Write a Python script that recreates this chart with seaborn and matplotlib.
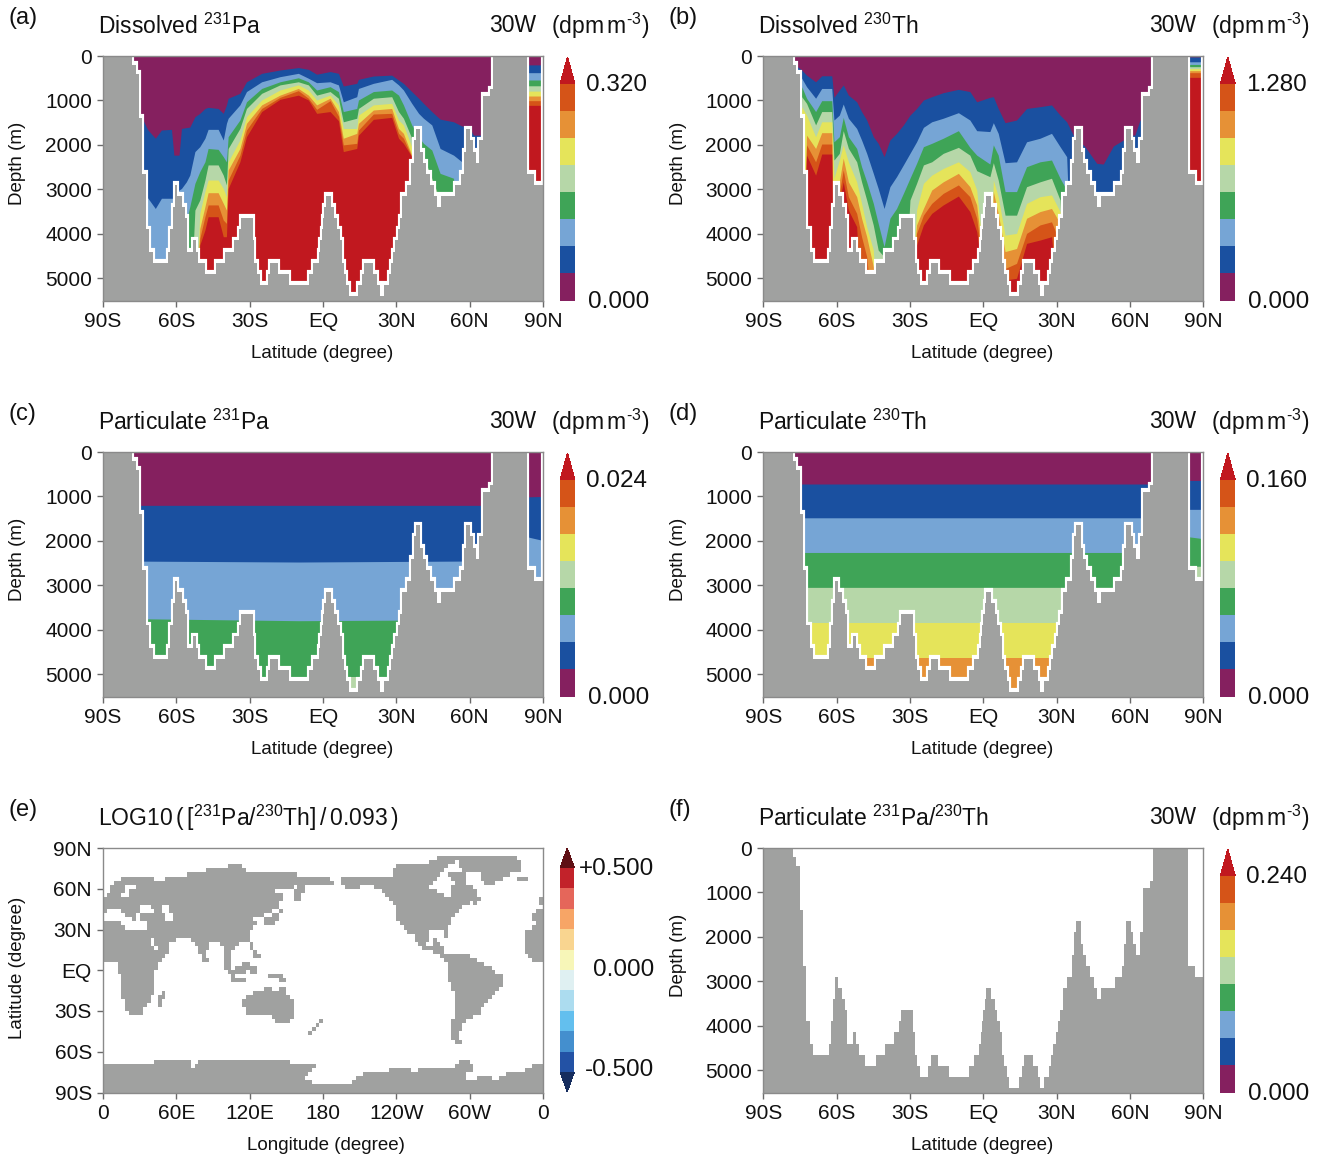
import matplotlib
matplotlib.use('Agg')
import matplotlib.pyplot as plt
from matplotlib.colors import ListedColormap, BoundaryNorm
from matplotlib.colorbar import ColorbarBase
import numpy as np
import seaborn as sns

W, H = 1324, 1158
D = 6000  # interface lies below the sea floor there

# colours
section_colors = ['#85205F', '#1A50A0', '#76A5D5', '#3FA457', '#B6D7A8', '#E5E45A', '#E69136', '#D55418', '#C1181F']
ratio_colors = ['#2352A5', '#448FCE', '#63BFEE', '#ACDCEF', '#DFF0F2', '#F7F6B8', '#F9D590', '#F7A566', '#E5665A', '#C2222A']
ratio_over = '#5F0F14'
ratio_under = '#162D5E'
land_color = '#A0A1A0'

# sea floor along 30W, each depth holds from its latitude to the next one
topo_lat = [-90, -78, -76.6, -75.1, -73.9, -72.4, -71, -69.7, -63.3, -62.5, -61.5, -60.5, -59.6, -57.7, -56.6, -55.6,
            -53.2, -52, -51, -48.3, -43.8, -40.1, -36.4, -34.5, -33.5, -28.8, -28.1, -27, -25.9, -22.5, -21.5, -18.5,
            -13.9, -5.7, -4, -1.8, -1.1, -0.4, 0, 0.5, 1.1, 3.3, 4.6, 5.7, 6.8, 7.6, 8.6, 9.5, 10.6, 14.5,
            15.8, 16.6, 20.5, 22.2, 23.3, 25, 26.9, 27.8, 28.6, 29.6, 30.5, 31.5, 32.5, 34.4, 36.1, 37.1, 37.9, 39.8,
            40.9, 42, 43.8, 45.4, 46.5, 48.3, 53.9, 56.6, 57.5, 58.4, 60.3, 61.2, 62.5, 64, 65.5, 68.2, 69.5, 83.6, 86.5, 90]
topo_depth = [0, 200, 400, 1400, 2650, 3900, 4400, 4650, 4400, 3900, 3400, 2900, 3150, 3400, 3650, 4400,
              4150, 4400, 4650, 4900, 4650, 4400, 4150, 3900, 3650, 4150, 4650, 4900, 5150, 4900, 4650, 4900,
              5150, 4900, 4650, 4400, 4150, 3900, 3650, 3400, 3150, 3400, 3650, 3900, 4150, 4650, 4900, 5150, 5400, 5150,
              4900, 4650, 4900, 5150, 5400, 5150, 4900, 4650, 4400, 4150, 3900, 3650, 3150, 2900, 2400, 1900, 1650, 2150,
              2400, 2650, 2900, 3150, 3400, 3150, 2900, 2650, 2150, 1650, 1900, 2150, 2400, 1900, 900, 750, 0, 2650, 2900, 2900]

# panel (a): depth of the top of each colour band
lat_a = [-73.6, -72.2, -71.6, -68.6, -66.1, -62, -61, -58.9, -57.9, -55.9,
         -54.5, -52.4, -50.4, -48.3, -47, -42.9, -40.8, -39.5, -38.8, -34,
         -31.3, -25.1, -17.6, -10.1, -6, -2.6, 2.9, 6.3, 8.3, 13.8,
         14.5, 20.6, 28.1, 30.9, 32.9, 36.3, 39.1, 41.1, 44.5, 47.9,
         53.4, 56.8, 59.5, 61.6, 64.3, 69.1, 83, 90]
a_blue = [1440, 1605, 1665, 1850, 1665, 1650, 2230, 2230, 1630, 1610,
          1600, 1365, 1290, 1180, 1155, 1180, 1290, 1100, 950, 840,
          580, 390, 315, 260, 300, 410, 350, 390, 675, 615,
          525, 450, 430, 540, 615, 800, 950, 1065, 1250, 1420,
          1480, 1575, 1590, 1780, 1780, 1780, 200, 200]
a_light = [3165, 3165, 3200, 3430, 3200, 3200, 3200, 3015, 2980, 2830,
           2680, 2150, 2040, 1850, 1650, 1650, 1890, 1515, 1400, 1100,
           800, 580, 465, 390, 500, 600, 580, 650, 1030, 915,
           730, 615, 525, 650, 765, 1065, 1290, 1400, 1550, 2080,
           2230, 2380, D, D, D, D, 375, 375]
a_green = [D, D, D, D, D, D, D, D, D, 3700,
           3390, 2865, 2600, 2380, 2080, 2100, 2265, 2380, 1815, 1440,
           1030, 730, 580, 490, 580, 765, 690, 800, 1250, 1180,
           990, 800, 765, 880, 1100, 1550, 1815, 1965, 2115, 2640,
           2750, D, D, D, D, D, 540, 540]
a_pale = [D, D, D, D, D, D, D, D, D, D,
          D, 3465, 3240, 2790, 2450, 2450, 2680, 2900, 2080, 1630,
          1180, 840, 650, 580, 650, 880, 800, 950, 1480, 1400,
          1180, 950, 915, 1250, 1400, 1850, 2080, 2265, 2750, 3240,
          D, D, D, D, D, D, 670, 670]
a_yellow = [D, D, D, D, D, D, D, D, D, D,
            D, D, 3540, 3050, 2790, 2790, 2980, 3165, 2380, 1890,
            1365, 990, 765, 650, 765, 990, 880, 1100, 1630, 1630,
            1330, 1100, 1065, 1440, 1550, 2040, D, D, D, D,
            D, D, D, D, D, D, 790, 790]
a_orange = [D, D, D, D, D, D, D, D, D, D,
            D, D, 3880, 3390, 3075, 3075, 3315, 3465, 2565, 2080,
            1515, 1100, 880, 730, 880, 1100, 950, 1250, 1850, 1740,
            1515, 1215, 1180, 1630, 1740, 2230, D, D, D, D,
            D, D, D, D, D, D, 900, 900]
a_dark = [D, D, D, D, D, D, D, D, D, D,
          D, D, 4100, 3615, 3350, 3350, 3690, 3765, 2790, 2230,
          1665, 1180, 930, 780, 950, 1200, 1005, 1350, 2000, 1965,
          1665, 1305, 1290, 1740, 1850, 2265, D, D, D, D,
          D, D, D, D, D, D, 1005, 1005]
a_red = [D, D, D, D, D, D, D, D, D, D,
         D, D, 4250, 3915, 3615, 3615, 4065, 4065, 2980, 2380,
         1815, 1250, 975, 880, 990, 1290, 1250, 1455, 2150, 2080,
         1780, 1425, 1380, 1850, 1965, 2265, D, D, D, D,
         D, D, D, D, D, D, 1110, 1110]

# panel (b)
lat_b = [-76.4, -74.3, -72.3, -68.6, -66.1, -62, -61.1, -58.9, -57.3, -55.2,
         -51.8, -49.8, -47.7, -45, -43, -40.6, -38.2, -35.5, -32.7, -30,
         -27.3, -24.5, -21.1, -16.4, -10.2, -5.5, -2.7, 2.7, 4.1, 6.1,
         8.9, 13.6, 17.7, 23.2, 27.9, 31.4, 34.1, 36.8, 38.9, 41.6,
         46.4, 49.1, 53.2, 57.3, 59.3, 62, 64.1, 68.9, 83, 90]
b_blue = [225, 315, 430, 580, 445, 445, 930, 765, 650, 880,
          1030, 1250, 1440, 1815, 1965, 2265, 1890, 1740, 1550, 1330,
          1180, 990, 915, 825, 750, 800, 1030, 930, 915, 1180,
          1500, 1440, 1180, 1140, 1100, 1330, 1480, 1780, 1890, 2040,
          2415, 2430, 2025, 1890, 1780, 1780, 1440, 1440, 20, 20]
b_light = [540, 500, 690, 950, 730, 730, 1440, 1330, 1080, 1400,
           1630, 1890, 2190, 2640, 2980, 3430, 2940, 2715, 2450, 2190,
           1930, 1605, 1480, 1400, 1275, 1440, 1680, 1700, 1500, 1740,
           2400, 2380, 1930, 1850, 1740, 2040, 2265, D, D, D,
           D, D, D, D, D, D, D, D, 130, 130]
b_green = [D, 690, 950, 1250, 1005, 1005, 1930, 1815, 1380, 1815,
           2080, 2490, 2830, 3315, 3765, 4290, 3650, 3430, 3090, 2750,
           2415, 2040, 1965, 1850, 1680, 2055, 2230, 2430, 2000, 2230,
           3050, 3050, 2490, 2380, 2340, 2750, 3015, D, D, D,
           D, D, D, D, D, D, D, D, 190, 190]
b_pale = [D, 915, 1065, 1550, 1250, 1250, 2340, 2190, 1680, 2075,
          2380, 2830, 3240, 3805, 4365, 4515, D, D, D, 3240,
          2865, 2450, 2380, 2190, 2055, 2230, 2580, 2715, 2400, 2790,
          3580, 3580, 2940, 2830, 2750, 3240, D, D, D, D,
          D, D, D, D, D, D, D, D, 240, 240]
b_yellow = [D, 1140, 1330, 1815, 1480, 1480, 2750, 2340, 2000, 2380,
            2830, 3315, 3840, 4365, D, D, D, D, D, D,
            3465, 2865, 2680, 2530, 2380, 2600, 3015, D, 2790, 3165,
            4030, 3990, 3315, 3165, 3125, 3500, D, D, D, D,
            D, D, D, D, D, D, D, D, 285, 285]
b_orange = [D, D, 1780, 2080, 1725, 1725, D, 2830, 2300, 2830,
            3165, 3650, 4065, 4740, D, D, D, D, D, D,
            3800, 3430, 3015, 2830, 2640, 2940, 3350, D, 3050, 3540,
            4400, 4330, 3650, 3500, 3430, 3765, D, D, D, D,
            D, D, D, D, D, D, D, D, 330, 330]
b_dark = [D, D, 2000, 2380, 1980, 1980, D, 3090, 2565, 3165,
          3540, 4065, 4515, D, D, D, D, D, D, D,
          3990, 3580, 3315, 3090, 2900, 3165, 3650, D, D, 3840,
          4780, 4665, 3990, 3800, 3730, 4200, D, D, D, D,
          D, D, D, D, D, D, D, D, 375, 375]
b_red = [D, D, 2230, 2680, 2205, 2205, D, 3300, 2830, 3465,
         3840, D, D, D, D, D, D, D, D, D,
         4250, 3800, 3540, 3350, 3150, 3500, 3950, D, D, D,
         5040, 5000, 4215, 4140, 4065, D, D, D, D, D,
         D, D, D, D, D, D, D, D, 480, 480]

# panel (c), nearly flat bands
c_blue = ([-90, 69, 83, 90], [1200, 1200, 1010, 1000])
c_light = ([-90, -10, 69, 83.7, 90], [2450, 2475, 2450, 1910, 1990])
c_green = ([-90, -10, 90], [3740, 3795, 3765])
c_pale = ([-90, 10.4, 10.7, 14.5, 14.6, 23, 23.2, 24.5, 24.6, 90], [D, D, 5050, 5050, D, D, 5050, 5050, D, D])

# panel (d)
d_blue = ([-90, 69, 83, 90], [720, 720, 640, 640])
d_light = ([-90, 69, 83, 90], [1480, 1480, 1290, 1290])
d_green = ([-90, 69, 83, 90], [2260, 2260, 1900, 1950])
d_pale = ([-90, 69, 83, 90], [3045, 3045, 2570, 2570])
d_yellow = ([-90, 90], [3840, 3840])
d_orange = ([-90, 90], [4635, 4635])

# panel (e): land cells per row of a 3 degree grid, from 90N down, (first, last) column from 0E
land_runs = [
    [], [],
    [(91, 112)],
    [(89, 95), (97, 113)],
    [(34, 37), (80, 93), (97, 113)],
    [(28, 38), (79, 92), (98, 113)],
    [(23, 52), (79, 91), (94, 98), (103, 110)],
    [(5, 13), (17, 61), (65, 90), (95, 98), (103, 108), (113, 115)],
    [(3, 62), (65, 89), (96, 98), (104, 106)],
    [(2, 5), (9, 51), (53, 54), (66, 69), (74, 88), (95, 100)],
    [(2, 5), (7, 46), (52, 54), (76, 90), (95, 101)],
    [(1, 4), (7, 48), (52, 53), (77, 92), (95, 101)],
    [(0, 48), (52, 53), (78, 94), (95, 102), (119, 119)],
    [(0, 47), (79, 99), (101, 101), (119, 119)],
    [(0, 9), (13, 15), (18, 47), (80, 97)],
    [(0, 0), (5, 9), (14, 15), (18, 45), (48, 48), (80, 96), (118, 119)],
    [(6, 8), (10, 16), (19, 43), (46, 47), (80, 95), (117, 119)],
    [(8, 8), (10, 16), (19, 40), (44, 47), (80, 94), (117, 119)],
    [(0, 4), (12, 41), (44, 46), (81, 94), (118, 119)],
    [(0, 5), (12, 40), (82, 93), (117, 119)],
    [(0, 39), (83, 88), (93, 93), (115, 119)],
    [(0, 39), (85, 88), (93, 93), (115, 119)],
    [(0, 12), (14, 19), (24, 39), (85, 88), (90, 90), (115, 119)],
    [(0, 12), (14, 17), (25, 28), (32, 36), (40, 40), (86, 87), (90, 91), (115, 119)],
    [(0, 13), (15, 17), (26, 28), (33, 35), (40, 40), (87, 92), (115, 119)],
    [(0, 17), (26, 27), (33, 34), (41, 41), (90, 92), (115, 119)],
    [(0, 16), (27, 27), (33, 34), (41, 42), (92, 99), (116, 119)],
    [(0, 15), (27, 28), (33, 34), (93, 101), (117, 119)],
    [(4, 14), (33, 34), (38, 39), (94, 103)],
    [(4, 14), (33, 34), (36, 41), (94, 105)],
    [(4, 13), (34, 35), (36, 38), (40, 41), (94, 106)],
    [(5, 13), (35, 35), (45, 48), (94, 108)],
    [(5, 13), (35, 38), (48, 49), (94, 108)],
    [(5, 13), (95, 108)],
    [(5, 13), (44, 45), (48, 49), (95, 107)],
    [(5, 13), (16, 16), (41, 49), (96, 106)],
    [(5, 12), (15, 16), (39, 50), (96, 105)],
    [(6, 12), (15, 15), (38, 51), (96, 104)],
    [(6, 11), (15, 15), (38, 51), (96, 103)],
    [(6, 10), (39, 51), (96, 102)],
    [(7, 10), (39, 51), (96, 102)],
    [(46, 51), (96, 100)],
    [(47, 50), (59, 59), (95, 98)],
    [(58, 58), (95, 97)],
    [(57, 57), (95, 97)],
    [(56, 56), (95, 96)],
    [(95, 96)],
    [(96, 97)],
    [], [], [], [],
    [(14, 23), (26, 50), (97, 99)],
    [(0, 23), (25, 57), (96, 100), (117, 119)],
    [(0, 56), (78, 83), (86, 100), (115, 119)],
    [(0, 55), (71, 98), (110, 119)],
    [(0, 54), (69, 98), (102, 105), (108, 119)],
    [(0, 56), (68, 119)],
    [(0, 119)],
    [(0, 119)],
]

lat_ticks = [-90, -60, -30, 0, 30, 60, 90]
lat_labels = ['90S', '60S', '30S', 'EQ', '30N', '60N', '90N']
depth_ticks = [0, 1000, 2000, 3000, 4000, 5000]
lon_labels = ['0', '60E', '120E', '180', '120W', '60W', '0']
map_lat_labels = ['90N', '60N', '30N', 'EQ', '30S', '60S', '90S']
bar_tops = [0.320, 1.280, 0.024, 0.160, 0.240]

sns.set_theme(style='ticks')
plt.rcParams['font.family'] = ['Liberation Sans', 'DejaVu Sans']
plt.rcParams['mathtext.fontset'] = 'custom'
plt.rcParams['mathtext.rm'] = 'Liberation Sans'
plt.rcParams['mathtext.default'] = 'regular'

fig = plt.figure(figsize=(W / 100, H / 100), dpi=100, facecolor='white')


def box(x0, y0, x1, y1):
    return [x0 / W, 1 - y1 / H, (x1 - x0) / W, (y1 - y0) / H]


def label(x, y, s, size=16.5, ha='left', rotation=0):
    fig.text(x / W, 1 - y / H, s, fontsize=size, ha=ha, va='center', rotation=rotation, color='#111111')


def style_axis(ax):
    for side in ax.spines:
        ax.spines[side].set_visible(True)
        ax.spines[side].set_color('#8a8a8a')
        ax.spines[side].set_linewidth(1.0)
    ax.tick_params(length=4.5, width=1, color='#6a6a6a', labelsize=15, pad=3.5, labelcolor='#111111')
    ax.set_xlabel('')
    ax.set_ylabel('')


def section(x0, y0, bands, outline=True):
    ax = fig.add_axes(box(x0, y0, x0 + 440, y0 + 244.5))
    if bands:
        ax.fill_between([-90, 90], 0, D, color=section_colors[0], lw=0)
    for i, (lats, depths) in enumerate(bands):
        ax.fill_between(lats, depths, D, color=section_colors[i + 1], lw=0)
    if outline:
        # thin on the walls, thicker above the flats, as in the model's empty bottom cells
        sns.lineplot(x=topo_lat + [90], y=[max(d - 40, 0) for d in topo_depth] + [0], drawstyle='steps-post',
                     color='white', linewidth=3.0, solid_joinstyle='miter', estimator=None, sort=False,
                     errorbar=None, ax=ax, zorder=2.1)
    ax.fill_between(topo_lat, topo_depth, 5500, step='post', color=land_color, lw=0, zorder=2.2)
    ax.set_xlim(-90, 90)
    ax.set_ylim(5500, 0)
    ax.set_xticks(lat_ticks)
    ax.set_xticklabels(lat_labels)
    ax.set_yticks(depth_ticks)
    style_axis(ax)
    label(x0 + 219, y0 + 297, 'Latitude (degree)', size=13.5, ha='center')
    label(x0 - 85, y0 + 107, 'Depth (m)', size=13.5, ha='center', rotation=90)
    return ax


def level_bar(x0, y0, top):
    cax = fig.add_axes(box(x0 + 457, y0 + 1, x0 + 472, y0 + 244.5))
    levels = np.linspace(0, top, 9)
    cmap = ListedColormap(section_colors[:8])
    cmap.set_over(section_colors[8])
    cb = ColorbarBase(cax, cmap=cmap, norm=BoundaryNorm(levels, 8), extend='max', extendfrac=0.124,
                      spacing='uniform', ticks=[])
    cb.outline.set_visible(False)
    cb.minorticks_off()
    label(x0 + 544, y0 + 29, f'{top:.3f}', size=17.5, ha='right')
    label(x0 + 546, y0 + 246, '0.000', size=17.5, ha='right')


def titles(x0, y0, name, tag, unit=True):
    label(x0 - 95, y0 - 38, tag, size=17)
    label(x0 - 5, y0 - 30, name)
    if unit:
        label(x0 + 386, y0 - 30, '30W')
        label(x0 + 546, y0 - 30, r'(dpm$\,$m$^{\text{-3}}$)', ha='right')


def stack(lats, *bands):
    return [(lats, band) for band in bands]


col1, col2 = 103, 763.3
row1, row2, row3 = 56, 452, 848

section(col1, row1, stack(lat_a, a_blue, a_light, a_green, a_pale, a_yellow, a_orange, a_dark, a_red))
titles(col1, row1, r'Dissolved $^{231}$Pa', '(a)')
level_bar(col1, row1, bar_tops[0])

section(col2, row1, stack(lat_b, b_blue, b_light, b_green, b_pale, b_yellow, b_orange, b_dark, b_red))
titles(col2, row1, r'Dissolved $^{230}$Th', '(b)')
level_bar(col2, row1, bar_tops[1])

section(col1, row2, [c_blue, c_light, c_green, c_pale])
titles(col1, row2, r'Particulate $^{231}$Pa', '(c)')
level_bar(col1, row2, bar_tops[2])

section(col2, row2, [d_blue, d_light, d_green, d_pale, d_yellow, d_orange])
titles(col2, row2, r'Particulate $^{230}$Th', '(d)')
level_bar(col2, row2, bar_tops[3])

# map panel
land = np.zeros((60, 120))
for row, runs in enumerate(land_runs):
    for first, last in runs:
        land[row, first:last + 1] = 1

ax_map = fig.add_axes(box(col1, row3, col1 + 440, row3 + 244.5))
sns.heatmap(land, cmap=ListedColormap(['white', land_color]), vmin=0, vmax=1, cbar=False,
            xticklabels=False, yticklabels=False, ax=ax_map)
ax_map.set_xticks(np.arange(0, 121, 20))
ax_map.set_xticklabels(lon_labels, rotation=0)
ax_map.set_yticks(np.arange(0, 61, 10))
ax_map.set_yticklabels(map_lat_labels, rotation=0)
style_axis(ax_map)
label(col1 + 223, row3 + 297, 'Longitude (degree)', size=13.5, ha='center')
label(18, row3 + 120, 'Latitude (degree)', size=13.5, ha='center', rotation=90)
titles(col1, row3, r'LOG10$\,$($\,$[$^{231}$Pa/$^{230}$Th]$\,$/$\,$0.093$\,$)', '(e)', unit=False)

cax_map = fig.add_axes(box(560, 848, 574.5, 1092))
ratio_cmap = ListedColormap(ratio_colors)
ratio_cmap.set_over(ratio_over)
ratio_cmap.set_under(ratio_under)
cb_map = ColorbarBase(cax_map, cmap=ratio_cmap, norm=BoundaryNorm(np.linspace(-0.5, 0.5, 11), 10), extend='both',
                      extendfrac=0.098, spacing='uniform', ticks=[])
cb_map.outline.set_visible(False)
cb_map.minorticks_off()
label(654, 869, '+0.500', size=17.5, ha='right')
label(654, 970, '0.000', size=17.5, ha='right')
label(654, 1070, '-0.500', size=17.5, ha='right')

section(col2, row3, [], outline=False)
titles(col2, row3, r'Particulate $^{231}$Pa/$^{230}$Th', '(f)')
level_bar(col2, row3, bar_tops[4])

fig.savefig('out.png', dpi=100, facecolor='white')
